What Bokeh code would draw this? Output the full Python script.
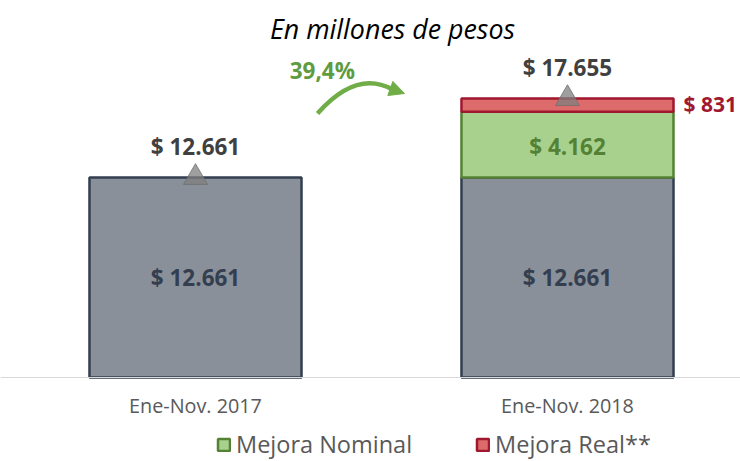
from bokeh.plotting import figure
from bokeh.models import (ColumnDataSource, Range1d, Legend, LegendItem,
                          Arrow, NormalHead, Label, Span)
from bokeh.core.properties import value
from bokeh.embed import file_html
from bokeh.resources import INLINE

# ---- data ----
categories = ["Ene-Nov. 2017", "Ene-Nov. 2018"]
base_values = [12661, 12661]
nominal_values = [0, 4162]
real_values = [0, 831]
total_values = [12661, 17655]
growth_label = "39,4%"

def fmt(v):
    return "$ " + f"{v:,}".replace(",", ".")

FONT = "Open Sans"
idx = list(range(len(categories)))
BW = 0.57

p = figure(width=740, height=461, output_backend="svg", toolbar_location=None,
           x_range=Range1d(-0.5242, 1.4651), y_range=Range1d(-5317, 23864),
           min_border=0, outline_line_color=None, background_fill_color="white")
p.grid.visible = False
p.axis.visible = False

# baseline (category axis line)
p.add_layout(Span(location=0, dimension="width", line_color="#d9d9d9", line_width=1))

# category labels
cat_src = ColumnDataSource(dict(x=idx, y=[0] * len(idx), lab=categories))
p.text(x="x", y="y", text="lab", source=cat_src, text_align="center", text_baseline="middle",
       y_offset=28, text_font=value(FONT), text_font_size="19.8px", text_color="#595959")

# base bars
base_src = ColumnDataSource(dict(x=idx, top=base_values, lab=[fmt(v) for v in base_values],
                                 mid=[v / 2 for v in base_values]))
p.vbar(x="x", top="top", bottom=0, width=BW, source=base_src, fill_color="#8a9099",
       line_color="#333f50", line_width=2.5)

# nominal
nom = [(i, b, n) for i, b, n in zip(idx, base_values, nominal_values) if n > 0]
nom_src = ColumnDataSource(dict(x=[a[0] for a in nom], bottom=[a[1] for a in nom],
                                top=[a[1] + a[2] for a in nom], mid=[a[1] + a[2] / 2 for a in nom],
                                lab=[fmt(a[2]) for a in nom]))
g = p.vbar(x="x", top="top", bottom="bottom", width=BW, source=nom_src, fill_color="#a9d18e",
           line_color="#548235", line_width=2.5)

# real
rl = [(i, b + n, r) for i, b, n, r in zip(idx, base_values, nominal_values, real_values) if r > 0]
rl_src = ColumnDataSource(dict(x=[a[0] for a in rl], bottom=[a[1] for a in rl],
                               top=[a[1] + a[2] for a in rl], mid=[a[1] + a[2] / 2 for a in rl],
                               lab=[fmt(a[2]) for a in rl]))
r = p.vbar(x="x", top="top", bottom="bottom", width=BW, source=rl_src, fill_color="#dd6b6b",
           line_color="#a0182f", line_width=2.5)

# labels inside bars
p.text(x="x", y="mid", text="lab", source=base_src, text_align="center", text_baseline="middle",
       text_font=value(FONT), text_font_style="bold", text_font_size="22.5px", text_color="#333f50")
p.text(x="x", y="mid", text="lab", source=nom_src, text_align="center", text_baseline="middle",
       y_offset=2, text_font=value(FONT), text_font_style="bold", text_font_size="22.5px",
       text_color="#548235")
p.text(x="x", y="mid", text="lab", source=rl_src, text_align="left", text_baseline="middle",
       x_offset=116, y_offset=-1, text_font=value(FONT), text_font_style="bold",
       text_font_size="21px", text_color="#a0182f")

# totals
tot_src = ColumnDataSource(dict(x=idx, y=total_values, lab=[fmt(v) for v in total_values]))
p.scatter(x="x", y="y", source=tot_src, marker="triangle", size=24, fill_color="#7f7f7f",
          fill_alpha=0.75, line_color="#6f6f6f", line_alpha=0.8)
p.text(x="x", y="y", text="lab", source=tot_src, text_align="center", text_baseline="middle",
       y_offset=-31, text_font=value(FONT), text_font_style="bold", text_font_size="22.5px",
       text_color="#404040")

# growth arrow + label
p.quadratic(x0=[0.3280], y0=[16711], cx=[0.4328], cy=[19496], x1=[0.5296], y1=[18231],
            line_color="#70ad47", line_width=4.5)
p.add_layout(Arrow(end=NormalHead(size=15, fill_color="#70ad47", line_color="#70ad47"),
                   x_start=0.5242, y_start=18294, x_end=0.5618, y_end=17977,
                   line_color="#70ad47", line_width=1))
p.add_layout(Label(x=0.341, y=19433, text=growth_label, text_align="center", text_baseline="middle",
                   text_font=FONT, text_font_style="bold", text_font_size="22.5px",
                   text_color="#5f9b3f"))

# title
p.add_layout(Label(x=0.5296, y=22092, text="En millones de pesos", text_align="center",
                   text_baseline="middle", text_font=FONT, text_font_style="italic",
                   text_font_size="26.8px", text_color="#000000"))

legend = Legend(items=[LegendItem(label="Mejora Nominal", renderers=[g]),
                       LegendItem(label="Mejora Real**", renderers=[r])],
                orientation="horizontal", location=(216, 1), border_line_alpha=0,
                background_fill_alpha=0, label_text_font=FONT, label_text_font_size="23.5px",
                label_text_color="#595959", glyph_width=15, glyph_height=15, spacing=63,
                padding=0, margin=0, label_standoff=5, label_height=20)
p.add_layout(legend)

open("out.html", "w").write(file_html(p, INLINE))
